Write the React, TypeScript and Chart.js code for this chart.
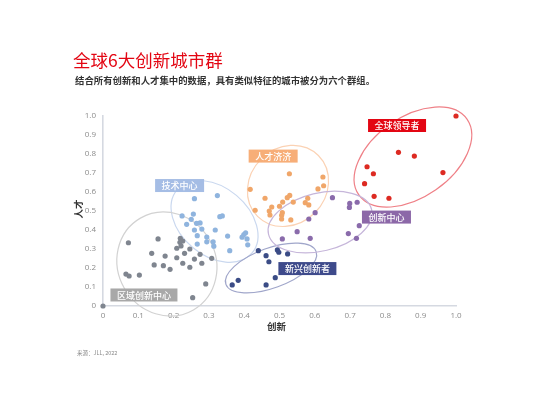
import React, { useEffect, useRef } from 'react';
import { Chart, registerables } from 'chart.js';

Chart.register(...registerables);

// ---------- text ----------
const TITLE = '全球6大创新城市群';
const SUBTITLE = '结合所有创新和人才集中的数据，具有类似特征的城市被分为六个群组。';
const SOURCE = '来源：JLL, 2022';
const X_TITLE = '创新';
const Y_TITLE = '人才';
const TICK_LABELS = ['0', '0.1', '0.2', '0.3', '0.4', '0.5', '0.6', '0.7', '0.8', '0.9', '1.0'];

// ---------- cluster names ----------
const CLUSTERS = ['全球领导者', '人才济济', '技术中心', '区域创新中心', '新兴创新者', '创新中心'];

// ---------- data (x = 创新, y = 人才) ----------
const LEADERS_X = [1.0, 0.837, 0.882, 0.748, 0.766, 0.963, 0.741, 0.768, 0.81];
const LEADERS_Y = [1.0, 0.809, 0.789, 0.733, 0.696, 0.702, 0.644, 0.577, 0.567];

const TALENT_X = [0.528, 0.623, 0.625, 0.609, 0.417, 0.459, 0.529, 0.522, 0.539, 0.509, 0.58, 0.573, 0.583, 0.5, 0.478, 0.471, 0.431, 0.508, 0.473, 0.506, 0.506, 0.532];
const TALENT_Y = [0.696, 0.679, 0.633, 0.616, 0.614, 0.567, 0.582, 0.57, 0.547, 0.547, 0.567, 0.544, 0.532, 0.525, 0.521, 0.5, 0.504, 0.491, 0.479, 0.477, 0.458, 0.453];

const TECH_X = [0.259, 0.324, 0.224, 0.256, 0.25, 0.331, 0.338, 0.237, 0.265, 0.275, 0.259, 0.28, 0.318, 0.267, 0.294, 0.353, 0.404, 0.399, 0.394, 0.408, 0.41, 0.312, 0.294, 0.267, 0.314, 0.359];
const TECH_Y = [0.565, 0.581, 0.474, 0.484, 0.456, 0.47, 0.474, 0.43, 0.435, 0.437, 0.4, 0.405, 0.4, 0.37, 0.363, 0.368, 0.385, 0.376, 0.362, 0.353, 0.322, 0.338, 0.338, 0.326, 0.315, 0.291];

const REGIONAL_X = [0.072, 0.156, 0.219, 0.226, 0.218, 0.138, 0.176, 0.209, 0.221, 0.246, 0.231, 0.209, 0.259, 0.275, 0.226, 0.246, 0.28, 0.308, 0.145, 0.171, 0.19, 0.065, 0.074, 0.103, 0.291, 0.254, 0];
const REGIONAL_Y = [0.333, 0.353, 0.356, 0.342, 0.335, 0.277, 0.263, 0.304, 0.316, 0.3, 0.277, 0.254, 0.247, 0.272, 0.225, 0.204, 0.225, 0.251, 0.216, 0.212, 0.193, 0.168, 0.158, 0.163, 0.116, 0.044, 0];

const EMERGING_X = [0.44, 0.462, 0.494, 0.498, 0.523, 0.47, 0.488, 0.462, 0.383, 0.366];
const EMERGING_Y = [0.291, 0.265, 0.295, 0.283, 0.274, 0.233, 0.149, 0.111, 0.135, 0.111];

const INNOV_X = [0.65, 0.699, 0.72, 0.698, 0.601, 0.583, 0.726, 0.695, 0.718, 0.55, 0.587, 0.508];
const INNOV_Y = [0.57, 0.54, 0.546, 0.519, 0.491, 0.458, 0.423, 0.381, 0.356, 0.391, 0.356, 0.353];

// ---------- styles ----------
const POINT_COLORS = ['#dd2a22', '#f0a669', '#8fb4de', '#7f858f', '#3b4c86', '#8a6bab'];
const LABEL_BG = ['#e30613', '#f7ae78', '#a5bde5', '#a8a8a8', '#3e4a8b', '#8c68a8'];
const RING_COLORS = ['#ef8087', '#fbd2b4', '#cad8ef', '#d2d2d2', '#a0a6ca', '#c6b6da'];

// ring annotation: centre in data units, radii in px, rotation in degrees
const RINGS = [
  { cx: 0.878, cy: 0.784, rx: 66, ry: 40, rot: -35 },
  { cx: 0.524, cy: 0.632, rx: 43, ry: 38, rot: -45 },
  { cx: 0.316, cy: 0.445, rx: 49, ry: 34, rot: 40 },
  { cx: 0.181, cy: 0.221, rx: 53, ry: 49, rot: 60 },
  { cx: 0.476, cy: 0.2, rx: 48, ry: 20, rot: -20 },
  { cx: 0.615, cy: 0.442, rx: 53, ry: 29, rot: -13.5 },
];
// label centres in data units
const LABEL_POS = [
  { x: 0.833, y: 0.95 },
  { x: 0.482, y: 0.789 },
  { x: 0.217, y: 0.634 },
  { x: 0.116, y: 0.058 },
  { x: 0.579, y: 0.197 },
  { x: 0.803, y: 0.468 },
];

const CJK = '"Noto Sans CJK SC", "Noto Sans", sans-serif';

function pts(xs: number[], ys: number[]) {
  return xs.map((x, i) => ({ x, y: ys[i] }));
}

const clusterPlugin = {
  id: 'clusters',
  beforeDatasetsDraw(chart: any) {
    const { ctx, scales } = chart;
    const xs = scales.x, ys = scales.y;
    ctx.save();
    RINGS.forEach((r, i) => {
      ctx.beginPath();
      ctx.ellipse(xs.getPixelForValue(r.cx), ys.getPixelForValue(r.cy), r.rx, r.ry, (r.rot * Math.PI) / 180, 0, Math.PI * 2);
      ctx.strokeStyle = RING_COLORS[i];
      ctx.lineWidth = 1.2;
      ctx.stroke();
    });
    ctx.restore();
  },
  afterDatasetsDraw(chart: any) {
    const { ctx, scales, chartArea } = chart;
    const xs = scales.x, ys = scales.y;
    ctx.save();
    ctx.font = `500 9px ${CJK}`;
    ctx.textAlign = 'center';
    ctx.textBaseline = 'middle';
    CLUSTERS.forEach((name, i) => {
      const cx = xs.getPixelForValue(LABEL_POS[i].x);
      const cy = ys.getPixelForValue(LABEL_POS[i].y);
      const w = ctx.measureText(name).width + 13;
      const h = 13;
      ctx.fillStyle = LABEL_BG[i];
      ctx.fillRect(cx - w / 2, cy - h / 2, w, h);
      ctx.fillStyle = '#ffffff';
      ctx.fillText(name, cx, cy + 0.5);
    });
    // axis titles
    ctx.fillStyle = '#333333';
    ctx.font = `bold 9.5px ${CJK}`;
    ctx.fillText(X_TITLE, (chartArea.left + chartArea.right) / 2 - 3, chartArea.bottom + 20);
    ctx.translate(chartArea.left - 25, (chartArea.top + chartArea.bottom) / 2 - 2);
    ctx.rotate(-Math.PI / 2);
    ctx.fillText(Y_TITLE, 0, 0);
    ctx.restore();
  },
};

export default function App() {
  const ref = useRef<HTMLCanvasElement>(null);
  useEffect(() => {
    if (!ref.current) return;
    const series = [
      pts(LEADERS_X, LEADERS_Y),
      pts(TALENT_X, TALENT_Y),
      pts(TECH_X, TECH_Y),
      pts(REGIONAL_X, REGIONAL_Y),
      pts(EMERGING_X, EMERGING_Y),
      pts(INNOV_X, INNOV_Y),
    ];
    const chart = new Chart(ref.current, {
      type: 'scatter',
      data: {
        datasets: series.map((d, i) => ({
          label: CLUSTERS[i],
          data: d,
          backgroundColor: POINT_COLORS[i],
          borderWidth: 0,
          pointRadius: 2.6,
          clip: false as any,
        })),
      },
      options: {
        responsive: false,
        animation: false,
        layout: { padding: { left: 0, top: 116, right: 95, bottom: 0 } },
        plugins: { legend: { display: false }, tooltip: { enabled: false }, title: { display: false } },
        scales: {
          x: {
            type: 'linear',
            min: 0,
            max: 1,
            grid: { display: false, drawTicks: false },
            border: { display: true, color: '#d5d9e1', width: 1.6 },
            ticks: {
              stepSize: 0.1,
              padding: 5,
              color: '#8c8c8c',
              font: { size: 8, family: '"Open Sans", "Noto Sans", sans-serif' },
              callback: (v: any) => TICK_LABELS[Math.round(Number(v) * 10)],
            },
            afterFit: (s: any) => { s.height = 91; },
          },
          y: {
            type: 'linear',
            min: 0,
            max: 1,
            grid: { display: false, drawTicks: false },
            border: { display: true, color: '#d5d9e1', width: 1.6 },
            ticks: {
              stepSize: 0.1,
              padding: 7,
              color: '#8c8c8c',
              font: { size: 8, family: '"Open Sans", "Noto Sans", sans-serif' },
              callback: (v: any) => TICK_LABELS[Math.round(Number(v) * 10)],
            },
            afterFit: (s: any) => { s.width = 103; },
          },
        },
      },
      plugins: [clusterPlugin],
    });
    return () => chart.destroy();
  }, []);

  return (
    <div style={{ position: 'fixed', left: 0, top: 0, width: 551, height: 397, background: '#fff', overflow: 'hidden' }}>
      <canvas ref={ref} width={551} height={397} style={{ position: 'absolute', left: 0, top: 0, width: 551, height: 397 }} />
      <div style={{ position: 'absolute', left: 73, top: 51, fontFamily: CJK, fontSize: 17.5, lineHeight: 1, color: '#e30613', whiteSpace: 'nowrap' }}>{TITLE}</div>
      <div style={{ position: 'absolute', left: 75, top: 75.5, fontFamily: CJK, fontSize: 9.4, fontWeight: 700, lineHeight: 1, color: '#333', whiteSpace: 'nowrap' }}>{SUBTITLE}</div>
      <div style={{ position: 'absolute', left: 77, top: 350.5, fontFamily: CJK, fontSize: 5.5, lineHeight: 1, color: '#888', whiteSpace: 'nowrap' }}>{SOURCE}</div>
    </div>
  );
}
